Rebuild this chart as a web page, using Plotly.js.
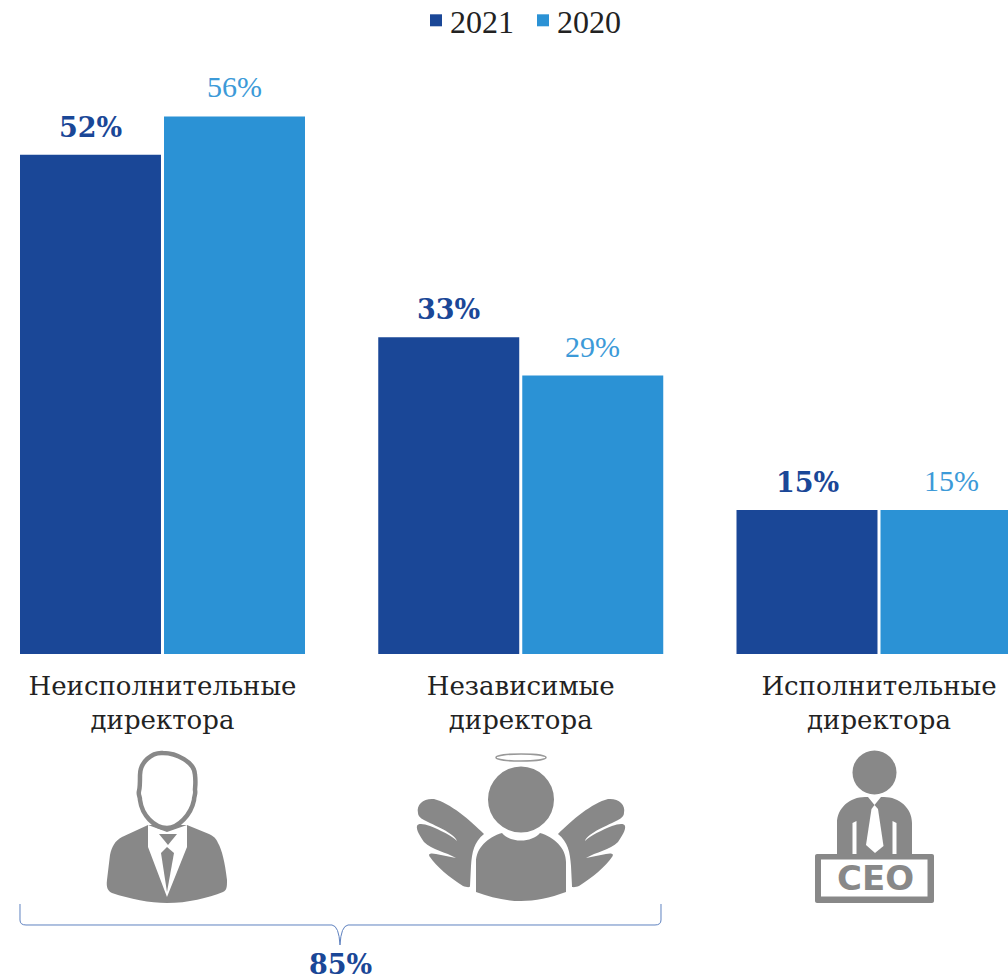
<!DOCTYPE html>
<html><head><meta charset="utf-8">
<script src="https://cdn.plot.ly/plotly-3.0.1.min.js"></script>
<style>html,body{margin:0;padding:0;background:#fff;overflow:hidden}</style>
</head><body><div id="chart" style="width:1008px;height:979px"></div>
<script>
const categories = ["Неисполнительные<br>директора","Независимые<br>директора","Исполнительные<br>директора"];
const values2021 = [52,33,15];
const values2020 = [56,29,15];
const labels2021 = ["52%","33%","15%"];
const labels2020 = ["56%","29%","15%"];
const totalLabel = "85%";
const W=1008,H=979,BASE=654;
const DARK="#1a4797",LIGHT="#2b92d5",GREY="#888888";
const px=s=>s.replace(/(-?[\d.]+),(-?[\d.]+)/g,(m,x,y)=>(x/W).toFixed(5)+","+(1-y/H).toFixed(5));
function path(d,fill,line,lw){return {type:"path",xref:"paper",yref:"paper",path:px(d),fillcolor:fill||"rgba(0,0,0,0)",line:{color:line||"rgba(0,0,0,0)",width:lw||0},layer:"above"};}
function ell(cx,cy,rx,ry,fill,line,lw){return {type:"circle",xref:"paper",yref:"paper",x0:(cx-rx)/W,x1:(cx+rx)/W,y0:1-(cy+ry)/H,y1:1-(cy-ry)/H,fillcolor:fill||"rgba(0,0,0,0)",line:{color:line||"rgba(0,0,0,0)",width:lw||0},layer:"above"};}
const shapes=[
 // man in suit
 path("M148,825 L122,837 C115,841 112,846 110,855 L107,880 C106,888 108,891 112,893 C130,899 150,903 167,903 C188,903 208,898 223,892 C227,890 227,887 227,880 C225,862 222,850 218,843 C216,838 213,836 209,834 L187,825 Z",GREY),
 path("M148,825 L148,847 L167,897 L187,847 L187,825 L167,832 Z","#ffffff"),
 path("M159,834 L177,834 L168,845 Z",GREY),
 path("M167,847 L161,853 L167,892 L174,853 Z",GREY),
 path("M163,753 C176,753 195,762 195,775 C196,783 195,787 195,790 C196,794 194,796 194,800 C191,815 178,828 167,828 C154,828 142,815 140,800 C140,796 138,795 139,791 C140,788 140,783 140,775 C140,762 152,752 163,753 Z","#ffffff",GREY,4.5),
 // angel
 ell(521,757.5,25,3.5,"#ffffff","#999999",1.5),
 ell(521,799.5,33,33,GREY),
 path("M476,892 L476,862 C476,848 488,837 502,833 C510,843 532,843 540,833 C554,837 566,848 566,862 L566,892 C550,898 535,901 521,901 C505,901 490,897 476,892 Z",GREY),
 path("M418,813 C416,804 424,798 434,799 C450,803 470,820 484,834 C474,842 472,852 471,866 L470,886 C470,888 466,887 463,886 C450,878 436,866 430,857 C427,853 432,853 436,854 L456,858 C446,852 432,850 424,842 C420,836 416,830 417,826 C418,823 424,824 430,826 C440,830 452,836 457,841 C455,834 440,828 424,820 C420,818 418,816 418,813 Z",GREY),
 path("M624,813 C626,804 618,798 608,799 C592,803 572,820 558,834 C568,842 570,852 571,866 L572,886 C572,888 576,887 579,886 C592,878 606,866 612,857 C615,853 610,853 606,854 L586,858 C596,852 610,850 618,842 C622,836 626,830 625,826 C624,823 618,824 612,826 C602,830 590,836 585,841 C587,834 602,828 618,820 C622,818 624,816 624,813 Z",GREY),
 // CEO
 ell(874.5,772.5,22,22,GREY),
 path("M837,855 L837,823 C837,808 850,797 865,797 L868,797 L874.5,805 L881,797 L884,797 C899,797 912,808 912,823 L912,855 Z",GREY),
 path("M852.5,855 L852.5,823 L856.5,821 L856.5,855 Z","#ffffff"),
 path("M892.5,855 L892.5,821 L896.5,823 L896.5,855 Z","#ffffff"),
 path("M874.5,805 L878,809 L883.5,846 L875,853 L866,845 L871.5,809 Z","#ffffff"),
 path("M817,854 L932,854 C933,854 934,855 934,856 L934,901 C934,902 933,903 932,903 L817,903 C816,903 815,902 815,901 L815,856 C815,855 816,854 817,854 Z",GREY),
 path("M821,859.5 L927.5,859.5 L927.5,896.5 L821,896.5 Z","#ffffff"),
 // brace
 path("M20,904 L20,920 Q20,925 26,925 L332,925 Q339,926 340,945 Q341,926 348,925 L655,925 Q661,925 661,920 L661,904","rgba(0,0,0,0)","#5f82c0",1)
];
const serif="'DejaVu Serif', serif";
const ann=[];
const shift=72;
categories.forEach((c,i)=>{
 ann.push({x:i,y:values2021[i],xref:"x",yref:"y",xshift:-shift,yshift:10,yanchor:"bottom",xanchor:"center",showarrow:false,text:"<b>"+labels2021[i]+"</b>",font:{family:serif,size:27,color:DARK}});
 ann.push({x:i,y:values2020[i],xref:"x",yref:"y",xshift:shift,yshift:11,yanchor:"bottom",xanchor:"center",showarrow:false,text:labels2020[i],font:{family:"'Liberation Serif', serif",size:30,color:"#3c9ad8"}});
});
ann.push({x:340/W,y:1-964/H,xref:"paper",yref:"paper",xanchor:"center",yanchor:"middle",showarrow:false,text:"<b>"+totalLabel+"</b>",font:{family:serif,size:27,color:DARK}});
ann.push({x:875/W,y:1-878/H,xref:"paper",yref:"paper",xanchor:"center",yanchor:"middle",showarrow:false,text:"<b>CEO</b>",font:{family:"'DejaVu Sans', sans-serif",size:34,color:GREY}});
const band=358.25,c0=162.5;
const traces=[
 {type:"bar",name:"2021",x:[0,1,2],y:values2021,marker:{color:DARK},cliponaxis:true},
 {type:"bar",name:"2020",x:[0,1,2],y:values2020,marker:{color:LIGHT},cliponaxis:true}
];
const layout={
 width:W,height:H,margin:{l:0,r:0,t:0,b:0,pad:0,autoexpand:false},paper_bgcolor:"#fff",plot_bgcolor:"#fff",
 barmode:"group",bargap:0.196,bargroupgap:0.021,
 xaxis:{range:[(0-c0)/band,(W-c0)/band],tickmode:"array",tickvals:[0,1,2],ticktext:categories,showgrid:false,zeroline:false,showline:false,ticks:"",
  tickfont:{family:serif,size:26,color:"#222222"},automargin:false,ticklabelstandoff:14},
 yaxis:{domain:[1-BASE/H,1],range:[0,BASE/9.6],showgrid:false,zeroline:false,showline:false,showticklabels:false,ticks:"",automargin:false},
 legend:{orientation:"h",x:416/W,y:1+7/H,xanchor:"left",yanchor:"top",font:{family:"'Liberation Serif', serif",size:32,color:"#222222"},itemwidth:30,entrywidth:62,entrywidthmode:"pixels",bgcolor:"rgba(0,0,0,0)",traceorder:"normal"},
 showlegend:true,shapes:shapes,annotations:ann
};
Plotly.newPlot("chart",traces,layout,{displayModeBar:false,responsive:false}).then(gd=>{
 gd.querySelectorAll(".legendtext").forEach(t=>{t.setAttribute("x",parseFloat(t.getAttribute("x"))-6);});
});
</script></body></html>
